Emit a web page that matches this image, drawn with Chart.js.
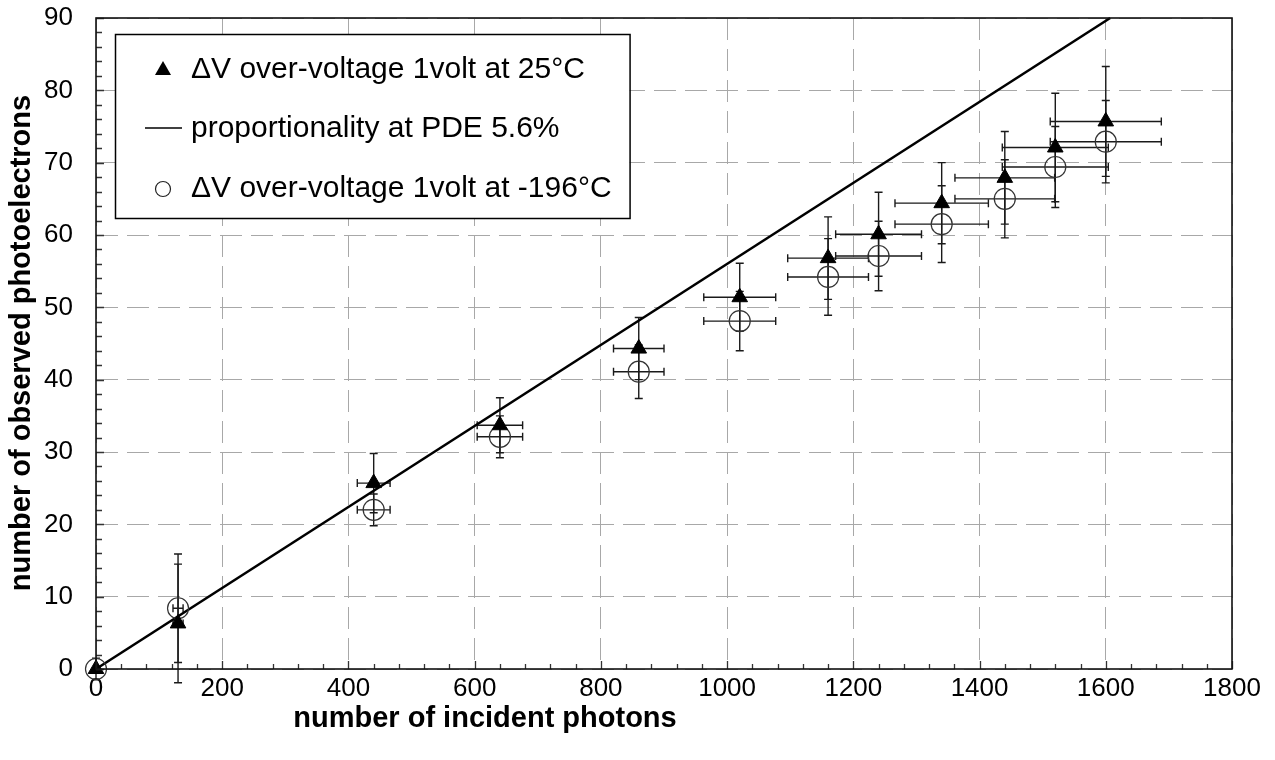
<!DOCTYPE html>
<html><head><meta charset="utf-8">
<script src="https://cdn.jsdelivr.net/npm/chart.js@4.4.0/dist/chart.umd.min.js"></script>
<style>html,body{margin:0;padding:0;background:#fff}#wrap{width:1275px;height:760px;position:relative}</style>
</head><body><div id="wrap"><canvas id="c" width="1275" height="760"></canvas></div>
<script>
// ---- data ----
const photons    = [0, 130, 440, 640, 860, 1020, 1160, 1240, 1340, 1440, 1520, 1600];
const photonsErr = [0, 8, 26, 36, 40, 57, 64, 68, 74, 79, 84, 88];
const pe25       = [0, 6.3, 25.7, 33.7, 44.3, 51.4, 56.8, 60.1, 64.4, 67.9, 72.1, 75.7];
const pe25Err    = [0, 8.2, 4.1, 3.8, 4.3, 4.7, 5.7, 5.8, 5.6, 6.4, 7.5, 7.6];
const pe196      = [0, 8.4, 22.0, 32.1, 41.1, 48.1, 54.2, 57.1, 61.5, 65.0, 69.4, 72.9];
const pe196Err   = [1.5, 7.5, 2.2, 2.9, 3.7, 4.1, 5.3, 4.8, 5.3, 5.4, 5.6, 5.7];
const propX      = [0, 1607];
const propY      = [0, 90];
const xTickValues = [0, 200, 400, 600, 800, 1000, 1200, 1400, 1600, 1800];
const yTickValues = [0, 10, 20, 30, 40, 50, 60, 70, 80, 90];
const labels = ['\u0394V over-voltage 1volt at 25\u00B0C', 'proportionality at PDE 5.6%', '\u0394V over-voltage 1volt at -196\u00B0C'];
const xTitle = 'number of incident photons';
const yTitle = 'number of observed photoelectrons';

const FONT = '"Liberation Sans", Arial, sans-serif';

const ds25 = photons.map((x, i) => ({x, y: pe25[i], xe: photonsErr[i], ye: pe25Err[i]}));
const ds196 = photons.map((x, i) => ({x, y: pe196[i], xe: photonsErr[i], ye: pe196Err[i]}));
const dsProp = propX.map((x, i) => ({x, y: propY[i]}));

const extras = {
  id: 'extras',
  beforeDatasetsDraw(chart) {
    const {ctx} = chart;
    const xs = chart.scales.x, ys = chart.scales.y;
    ctx.save();
    ctx.strokeStyle = '#1a1a1a';
    ctx.lineWidth = 1.4;
    const cap = 4;
    [ds25, ds196].forEach(arr => arr.forEach(p => {
      const px = xs.getPixelForValue(p.x), py = ys.getPixelForValue(p.y);
      ctx.beginPath();
      if (p.ye > 0) {
        const t = ys.getPixelForValue(p.y + p.ye), b = ys.getPixelForValue(p.y - p.ye);
        ctx.moveTo(px, t); ctx.lineTo(px, b);
        ctx.moveTo(px - cap, t); ctx.lineTo(px + cap, t);
        ctx.moveTo(px - cap, b); ctx.lineTo(px + cap, b);
      }
      if (p.xe > 0) {
        const l = xs.getPixelForValue(p.x - p.xe), r = xs.getPixelForValue(p.x + p.xe);
        ctx.moveTo(l, py); ctx.lineTo(r, py);
        ctx.moveTo(l, py - cap); ctx.lineTo(l, py + cap);
        ctx.moveTo(r, py - cap); ctx.lineTo(r, py + cap);
      }
      ctx.stroke();
    }));
    ctx.restore();
  },
  afterDraw(chart) {
    const {ctx, chartArea: a} = chart;
    const xs = chart.scales.x, ys = chart.scales.y;
    ctx.save();
    // inward ticks
    ctx.strokeStyle = '#333';
    ctx.lineWidth = 1.3;
    ctx.beginPath();
    for (let v = 0; v <= 1800; v += 40) {
      const px = Math.round(xs.getPixelForValue(v)) + 0.5;
      const len = (v % 200 === 0) ? 8 : 5;
      ctx.moveTo(px, a.bottom); ctx.lineTo(px, a.bottom - len);
    }
    for (let v = 0; v <= 90; v += 2) {
      const py = Math.round(ys.getPixelForValue(v)) + 0.5;
      const len = (v % 10 === 0) ? 8 : 6;
      ctx.moveTo(a.left, py); ctx.lineTo(a.left + len, py);
    }
    ctx.stroke();
    // frame
    ctx.strokeStyle = '#111';
    ctx.lineWidth = 1.6;
    ctx.strokeRect(a.left, a.top, a.right - a.left, a.bottom - a.top);
    // legend
    ctx.font = '30px ' + FONT;
    const tw = Math.max(...labels.map(t => ctx.measureText(t).width));
    const L = {x: 115, y: 34, w: 76 + tw + 18, h: 184};
    ctx.fillStyle = '#fff';
    ctx.fillRect(L.x, L.y, L.w, L.h);
    ctx.strokeStyle = '#000';
    ctx.lineWidth = 1.5;
    ctx.strokeRect(L.x + 0.5, L.y + 0.5, L.w, L.h);
    const rows = [69, 128, 188];
    ctx.fillStyle = '#000';
    ctx.beginPath();
    ctx.moveTo(163, 69 - 8); ctx.lineTo(163 + 8, 69 + 6); ctx.lineTo(163 - 8, 69 + 6); ctx.closePath();
    ctx.fill();
    ctx.strokeStyle = '#000'; ctx.lineWidth = 1.3;
    ctx.beginPath(); ctx.moveTo(145, 128); ctx.lineTo(182, 128); ctx.stroke();
    ctx.strokeStyle = '#222'; ctx.lineWidth = 1.2;
    ctx.beginPath(); ctx.arc(163, 189, 7.5, 0, Math.PI * 2); ctx.stroke();
    ctx.fillStyle = '#000';
    ctx.textAlign = 'left'; ctx.textBaseline = 'middle';
    labels.forEach((t, i) => ctx.fillText(t, 191, rows[i] + 1));
    // axis titles
    ctx.font = 'bold 29px ' + FONT;
    ctx.textAlign = 'center';
    ctx.fillText(xTitle, 485, 719);
    ctx.translate(22, 343);
    ctx.rotate(-Math.PI / 2);
    ctx.fillText(yTitle, 0, 0);
    ctx.restore();
  }
};

new Chart(document.getElementById('c'), {
  type: 'scatter',
  data: {
    datasets: [
      {label: labels[1], data: dsProp, showLine: true, borderColor: '#000', borderWidth: 2.6, pointRadius: 0, fill: false, order: 2, clip: false},
      {label: labels[2], data: ds196, pointStyle: 'circle', pointRadius: 10.5, backgroundColor: 'rgba(0,0,0,0)', borderColor: '#333', borderWidth: 1.2, order: 1, clip: false},
      {label: labels[0], data: ds25, pointStyle: 'triangle', pointRadius: 9, backgroundColor: '#000', borderColor: '#000', borderWidth: 1, order: 0, clip: false}
    ]
  },
  options: {
    responsive: false, animation: false, devicePixelRatio: 1,
    layout: {padding: {top: 18, right: 43, left: 0, bottom: 0}},
    plugins: {legend: {display: false}, tooltip: {enabled: false}},
    scales: {
      x: {
        type: 'linear', min: 0, max: 1800,
        afterFit(s) { s.height = 91; s.paddingLeft = 0; s.paddingRight = 0; },
        afterBuildTicks(s) { s.ticks = xTickValues.map(v => ({value: v})); },
        ticks: {font: {family: FONT, size: 26}, color: '#000', padding: 4, maxRotation: 0, callback: v => String(v)},
        grid: {color: '#a8a8a8', lineWidth: 1, drawTicks: false},
        border: {display: false, dash: [22, 9]}
      },
      y: {
        type: 'linear', min: 0, max: 90,
        afterFit(s) { s.width = 96; s.paddingTop = 0; s.paddingBottom = 0; },
        afterBuildTicks(s) { s.ticks = yTickValues.map(v => ({value: v})); },
        ticks: {font: {family: FONT, size: 26}, color: '#000', padding: 23, callback: v => String(v)},
        grid: {color: '#a8a8a8', lineWidth: 1, drawTicks: false},
        border: {display: false, dash: [22, 9]}
      }
    }
  },
  plugins: [extras]
});
</script></body></html>
